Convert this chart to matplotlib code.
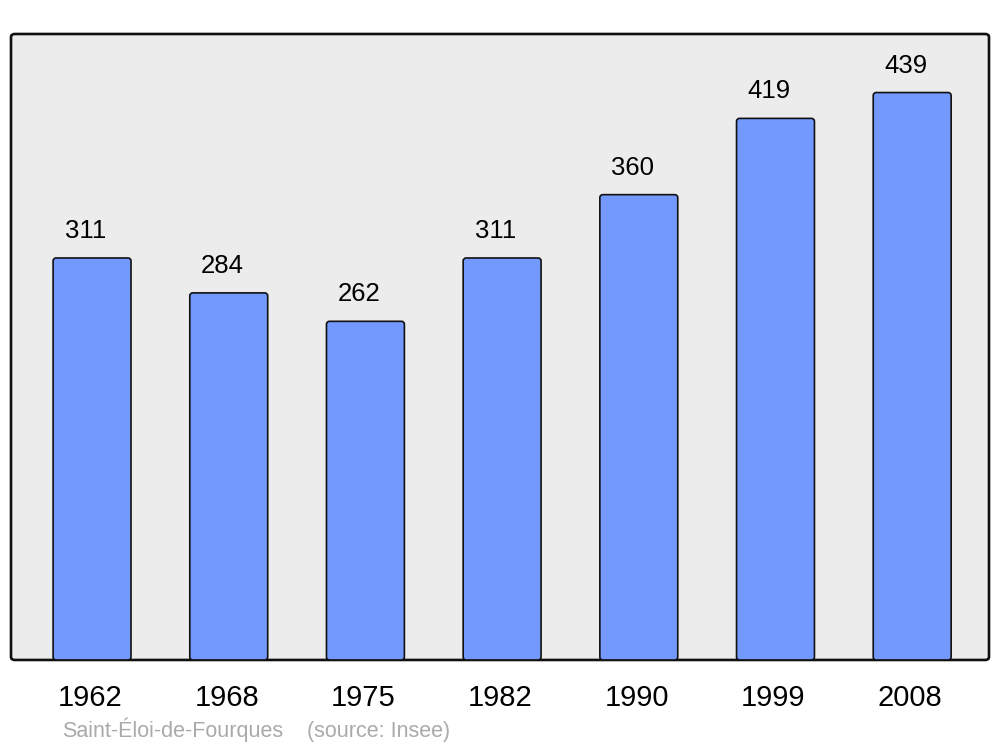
import matplotlib
matplotlib.use("Agg")
import matplotlib.pyplot as plt
from matplotlib.patches import FancyBboxPatch

plt.rcParams["font.family"] = ["Liberation Sans", "DejaVu Sans"]

# data
years = ["1962", "1968", "1975", "1982", "1990", "1999", "2008"]
population = [311, 284, 262, 311, 360, 419, 439]
commune = "Saint-Éloi-de-Fourques"
source = "(source: Insee)"

bar_color = "#7399ff"
bg_color = "#ececec"

fig = plt.figure(figsize=(10, 7.47), dpi=100)
ax = fig.add_axes([0.011, 0.1165, 0.978, 0.838])
ax.set_xlim(-0.593, 6.562)
ax.set_ylim(0, 484.3)
ax.set_facecolor("none")
for s in ax.spines.values():
    s.set_visible(False)

# rounded frame
frame = FancyBboxPatch((0, 0), 1, 1, boxstyle="round,pad=0,rounding_size=0.004",
                       transform=ax.transAxes, facecolor=bg_color, edgecolor="#111111",
                       linewidth=1.9, zorder=0, mutation_aspect=1.17, clip_on=False)
ax.add_patch(frame)

x = list(range(len(years)))
bars = ax.bar(x, population, width=0.57, color=bar_color)
# swap plain rectangles for ones with slightly rounded corners
for b in bars:
    b.set_visible(False)
    p = FancyBboxPatch((b.get_x(), b.get_y()), b.get_width(), b.get_height(),
                       boxstyle="round,pad=0,rounding_size=0.022", mutation_aspect=105,
                       facecolor=bar_color, edgecolor="#111111", linewidth=1.2, zorder=2)
    ax.add_patch(p)

for xi, v in zip(x, population):
    ax.text(xi - 0.045, v + 15.5, str(v), ha="center", va="baseline", fontsize=18.5, color="black")

ax.set_yticks([])
ax.set_xticks([xi - 0.015 for xi in x])
ax.set_xticklabels(years, fontsize=21)
ax.tick_params(axis="x", length=0, pad=17)

fig.text(0.062, 0.0134, commune, fontsize=15.5, color="#aaaaaa", ha="left", va="baseline")
fig.text(0.307, 0.0134, source, fontsize=15.5, color="#aaaaaa", ha="left", va="baseline")

fig.savefig("out.png", dpi=100)
